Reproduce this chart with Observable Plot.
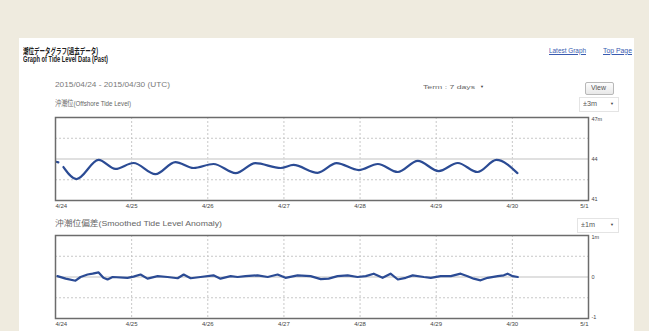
<!DOCTYPE html>
<html><head><meta charset="utf-8">
<script src="https://cdn.jsdelivr.net/npm/d3@7"></script>
<script src="https://cdn.jsdelivr.net/npm/@observablehq/plot@0.6"></script>
<style>
html,body{margin:0;padding:0;width:649px;height:331px;overflow:hidden;background:#efebdf;position:relative;}
#panel{position:absolute;left:19px;top:38px;width:615px;height:293px;background:#fff;}
.t{position:absolute;white-space:nowrap;font-family:"Liberation Sans","Noto Sans CJK JP",sans-serif;line-height:1;}
#view{position:absolute;left:585px;top:82px;width:27px;height:11px;border:1px solid #b8b8b8;border-radius:2px;background:linear-gradient(#fdfdfd,#e8e8e8);}
.sel{position:absolute;border:1px solid #e4e4e4;}
</style></head>
<body>
<div id="panel"></div>
<div class="sel" style="left:579px;top:97px;width:38px;height:13px"></div>
<div class="sel" style="left:577px;top:218px;width:40px;height:13px"></div>
<div id="view"></div>
<script>
// ---- data ----
const startDate = "2015-04-24T00:00:00Z";
const endDate = "2015-05-01T00:00:00Z";
const dayLabels = ["4/24","4/25","4/26","4/27","4/28","4/29","4/30","5/1"];

// Offshore tide level (m), hours since 2015-04-24 00:00 UTC
const upperHours = [0.2, 0.9, 1.6, 2.5, 6.6, 13.6, 18.9, 24.6, 31.5, 37.8, 43.5, 49.8, 56.8, 63.0, 71.0, 75.0, 82.6, 88.6, 95.6, 101.6, 107.9, 114.2, 120.8, 126.8, 133.0, 139.0, 145.6];
const upperLevel = [43.80, 43.76, NaN, 43.42, 42.55, 43.93, 43.28, 43.71, 42.90, 43.78, 43.35, 43.64, 42.98, 43.70, 43.35, 43.57, 43.00, 43.70, 43.20, 43.64, 43.06, 43.86, 43.13, 43.71, 43.06, 43.93, 42.98];
const upperDomain = [41, 47];
const upperGrid = [42.5, 45.5];
const upperCenter = [44];
const upperTickValues = [47, 44, 41];
const upperTickLabels = ["47m", "44", "41"];

// Smoothed tide level anomaly (m)
const lowerHours = [0.6, 3.2, 6.3, 7.9, 10.1, 11.7, 13.6, 15.1, 16.4, 18.0, 22.7, 24.6, 26.8, 29.0, 32.2, 35.3, 38.5, 40.4, 42.6, 45.7, 49.8, 52.0, 55.2, 57.4, 59.9, 63.7, 66.9, 70.0, 72.5, 76.3, 80.4, 83.6, 86.1, 88.9, 92.1, 95.2, 97.8, 100.3, 103.1, 105.6, 107.9, 110.4, 112.6, 116.1, 118.3, 121.4, 124.6, 127.7, 129.9, 131.8, 134.0, 136.2, 139.4, 141.3, 142.5, 144.1, 145.7];
const lowerAnomaly = [0.02, -0.04, -0.09, 0.00, 0.06, 0.08, 0.11, -0.02, -0.06, 0.00, -0.02, 0.01, 0.06, -0.04, 0.02, 0.00, -0.03, 0.06, -0.03, 0.00, 0.04, -0.04, 0.02, 0.00, 0.02, 0.04, 0.00, 0.06, -0.02, 0.04, 0.02, -0.05, -0.04, 0.02, 0.04, 0.00, 0.02, 0.08, -0.02, 0.08, -0.06, -0.02, 0.04, 0.00, -0.02, 0.02, 0.02, 0.08, 0.02, -0.04, -0.08, -0.02, 0.02, 0.04, 0.08, 0.02, 0.00];
const lowerDomain = [-1, 1];
const lowerGrid = [-0.5, 0.5];
const lowerCenter = [0];
const lowerTickValues = [1, 0, -1];
const lowerTickLabels = ["1m", "0", "-1"];

// ---- build ----
const FONT = '"Liberation Sans","Noto Sans CJK JP",sans-serif';
const t0 = new Date(startDate), t1 = new Date(endDate);
const dayDates = dayLabels.map((_, i) => new Date(+t0 + i * 864e5));
const dayTicks = dayLabels.map((l, i) => ({d: dayDates[i], l}));

function chart(hours, values, domain, grid, center, tickValues, tickLabels, curve, top) {
  const data = hours.map((h, i) => ({t: new Date(+t0 + h * 36e5), v: values[i]}));
  const yt = tickValues.map((v, i) => ({v, l: tickLabels[i]}));
  const svg = Plot.plot({
    width: 649, height: 100,
    marginLeft: 55, marginRight: 61, marginTop: 7, marginBottom: 10,
    x: {type: "utc", domain: [t0, t1], axis: null},
    y: {domain, axis: null},
    style: {background: "transparent", fontFamily: FONT, overflow: "visible"},
    marks: [
      Plot.ruleX(dayDates.slice(1, -1), {stroke: "#c8c8c8", strokeDasharray: "2,2"}),
      Plot.ruleY(grid, {stroke: "#c8c8c8", strokeDasharray: "2,2"}),
      Plot.ruleY(center, {stroke: "#d6d6d6", strokeWidth: 1.5}),
      Plot.line(data, {x: "t", y: "v", stroke: "#2b4b94", strokeWidth: 2.2, curve}),
      Plot.frame({stroke: "#6c6c6c", strokeWidth: 1.5}),
      Plot.text(dayTicks.slice(0, 1), {x: "d", y: () => domain[0], text: "l", dy: 6, textAnchor: "start", fontSize: 6, fill: "#444"}),
      Plot.text(dayTicks.slice(1, -1), {x: "d", y: () => domain[0], text: "l", dy: 6, textAnchor: "middle", fontSize: 6, fill: "#444"}),
      Plot.text(dayTicks.slice(-1), {x: "d", y: () => domain[0], text: "l", dy: 6, textAnchor: "end", fontSize: 6, fill: "#444"}),
      Plot.text(yt.slice(0, 1), {x: () => t1, y: "v", text: "l", dx: 3, textAnchor: "start", lineAnchor: "top", fontSize: 5.5, fill: "#444"}),
      Plot.text(yt.slice(1, 2), {x: () => t1, y: "v", text: "l", dx: 3, textAnchor: "start", lineAnchor: "middle", fontSize: 5.5, fill: "#444"}),
      Plot.text(yt.slice(2), {x: () => t1, y: "v", text: "l", dx: 3, textAnchor: "start", lineAnchor: "bottom", fontSize: 5.5, fill: "#444"})
    ]
  });
  svg.style.position = "absolute";
  svg.style.left = "0px";
  svg.style.top = top + "px";
  document.body.appendChild(svg);
}

chart(upperHours, upperLevel, upperDomain, upperGrid, upperCenter, upperTickValues, upperTickLabels, "monotone-x", 110);
chart(lowerHours, lowerAnomaly, lowerDomain, lowerGrid, lowerCenter, lowerTickValues, lowerTickLabels, "linear", 228);

function place(txt, x, cy, size, w, css) {
  const s = document.createElement("span");
  s.className = "t";
  s.textContent = txt;
  s.style.fontSize = size + "px";
  Object.assign(s.style, css || {});
  document.body.appendChild(s);
  const r = s.getBoundingClientRect();
  s.style.left = x + "px";
  s.style.top = (cy - r.height / 2) + "px";
  if (w) { s.style.transformOrigin = "0 50%"; s.style.transform = `scaleX(${w / r.width})`; }
  return s;
}

place("潮位データグラフ(過去データ)", 23, 51, 8.5, 75, {fontWeight: "bold", color: "#222"});
place("Graph of Tide Level Data (Past)", 23, 59.5, 8.5, 85, {fontWeight: "bold", color: "#222"});
place("2015/04/24 - 2015/04/30 (UTC)", 55, 85, 7.5, 115, {color: "#7a7a7a"});
place("沖潮位(Offshore Tide Level)", 55, 104, 7.5, 76, {color: "#666"});
place("沖潮位偏差(Smoothed Tide Level Anomaly)", 55, 224, 7.5, 167, {color: "#666"});
place("Latest Graph", 549, 51, 6.5, 37, {color: "#3a5bb0", textDecoration: "underline"});
place("Top Page", 603, 51, 6.5, 29, {color: "#3a5bb0", textDecoration: "underline"});
place("Term : 7 days", 423, 87, 6, 52, {color: "#666"});
place("▼", 480, 87, 4, 0, {color: "#444"});
place("View", 591, 88, 6.5, 15, {color: "#555"});
place("±3m", 583, 104, 6.5, 14, {color: "#555"});
place("▼", 610, 104, 4, 0, {color: "#444"});
place("±1m", 581, 225, 6.5, 14, {color: "#555"});
place("▼", 610, 225, 4, 0, {color: "#444"});
</script>
</body></html>
